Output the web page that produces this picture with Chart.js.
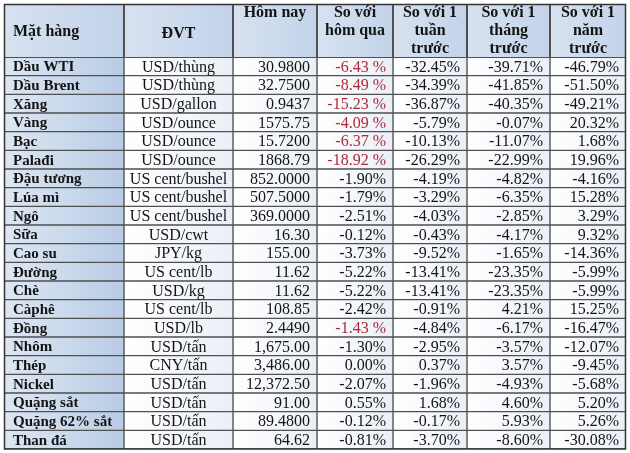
<!DOCTYPE html>
<html><head><meta charset="utf-8">
<script src="https://cdn.jsdelivr.net/npm/chart.js@4/dist/chart.umd.min.js"></script>
<style>html,body{margin:0;padding:0;background:#fff}canvas{display:block}</style>
</head><body>
<canvas id="c" width="630" height="453"></canvas>
<script>
// ---- data ----
const items = ['Dầu WTI','Dầu Brent','Xăng','Vàng','Bạc','Palađi','Đậu tương','Lúa mì','Ngô','Sữa','Cao su','Đường','Chè','Càphê','Đồng','Nhôm','Thép','Nickel','Quặng sắt','Quặng 62% sắt','Than đá'];
const units = ['USD/thùng','USD/thùng','USD/gallon','USD/ounce','USD/ounce','USD/ounce','US cent/bushel','US cent/bushel','US cent/bushel','USD/cwt','JPY/kg','US cent/lb','USD/kg','US cent/lb','USD/lb','USD/tấn','CNY/tấn','USD/tấn','USD/tấn','USD/tấn','USD/tấn'];
const today = ['30.9800','32.7500','0.9437','1575.75','15.7200','1868.79','852.0000','507.5000','369.0000','16.30','155.00','11.62','11.62','108.85','2.4490','1,675.00','3,486.00','12,372.50','91.00','89.4800','64.62'];
const dayChange = [-6.43,-8.49,-15.23,-4.09,-6.37,-18.92,-1.90,-1.79,-2.51,-0.12,-3.73,-5.22,-5.22,-2.42,-1.43,-1.30,0.00,-2.07,0.55,-0.12,-0.81];
const dayFlagged = [true,true,true,true,true,true,false,false,false,false,false,false,false,false,true,false,false,false,false,false,false];
const weekChange = [-32.45,-34.39,-36.87,-5.79,-10.13,-26.29,-4.19,-3.29,-4.03,-0.43,-9.52,-13.41,-13.41,-0.91,-4.84,-2.95,0.37,-1.96,1.68,-0.17,-3.70];
const monthChange = [-39.71,-41.85,-40.35,-0.07,-11.07,-22.99,-4.82,-6.35,-2.85,-4.17,-1.65,-23.35,-23.35,4.21,-6.17,-3.57,3.57,-4.93,4.60,5.93,-8.60];
const yearChange = [-46.79,-51.50,-49.21,20.32,1.68,19.96,-4.16,15.28,3.29,9.32,-14.36,-5.99,-5.99,15.25,-16.47,-12.07,-9.45,-5.68,5.20,5.26,-30.08];
const headers = [['Mặt hàng'],['ĐVT'],['Hôm nay'],['So với','hôm qua'],['So với 1','tuần','trước'],['So với 1','tháng','trước'],['So với 1','năm','trước']];

// ---- layout (column boundaries in scale units) ----
const colEdges = [0,120,229,313,389,463,546,622];
const TOP = 4;
const FONT = "'Liberation Serif','Times New Roman',serif";
const INK = '#141414';
const RED = '#ad2b36';
const LINE = '#505050';

const pct = v => v.toFixed(2) + '%';
const cellText = [
  r => items[r],
  r => units[r],
  r => today[r],
  r => dayFlagged[r] ? dayChange[r].toFixed(2) + ' %' : pct(dayChange[r]),
  r => pct(weekChange[r]),
  r => pct(monthChange[r]),
  r => pct(yearChange[r])
];
const align = ['left','center','right','right','right','right','right'];

function cellGradient(chart, c, first) {
  const {ctx, chartArea, scales} = chart;
  if (!chartArea || !scales.x) return first ? '#cbd9ec' : '#ffffff';
  const x0 = scales.x.getPixelForValue(colEdges[c]);
  const x1 = scales.x.getPixelForValue(colEdges[c + 1]);
  const g = ctx.createLinearGradient(x0, 0, x1, 0);
  if (first) { g.addColorStop(0, '#dde7f3'); g.addColorStop(1, '#b9cce5'); }
  else { g.addColorStop(0, '#ffffff'); g.addColorStop(1, '#eaeff7'); }
  return g;
}

const datasets = colEdges.slice(0, -1).map((e, c) => ({
  label: 'col' + c,
  data: items.map(() => [colEdges[c], colEdges[c + 1]]),
  backgroundColor: ctx => cellGradient(ctx.chart, c, c === 0),
  borderColor: LINE,
  borderWidth: 1,
  borderSkipped: false,
  grouped: false,
  categoryPercentage: 1,
  barPercentage: 1
}));

const tablePlugin = {
  id: 'tableText',
  afterDatasetsDraw(chart) {
    const {ctx, chartArea, scales} = chart;
    const xs = scales.x, ys = scales.y;
    ctx.save();
    // header cells
    for (let c = 0; c < headers.length; c++) {
      const x0 = xs.getPixelForValue(colEdges[c]);
      const x1 = xs.getPixelForValue(colEdges[c + 1]);
      const g = ctx.createLinearGradient(x0, 0, x1, 0);
      g.addColorStop(0, '#d7e2f0'); g.addColorStop(1, '#c2d3e9');
      ctx.fillStyle = g;
      ctx.fillRect(x0, TOP, x1 - x0, chartArea.top - TOP);
      ctx.strokeStyle = LINE; ctx.lineWidth = 1;
      ctx.strokeRect(x0 + 0.5, TOP + 0.5, x1 - x0 - 1, chartArea.top - TOP);
      ctx.fillStyle = INK;
      ctx.font = 'bold 16px ' + FONT;
      ctx.textBaseline = 'middle';
      const lines = headers[c];
      if (c === 0) {
        ctx.textAlign = 'left';
        ctx.fillText(lines[0], x0 + 9, (TOP + chartArea.top) / 2 + 1);
      } else if (c === 1) {
        ctx.textAlign = 'center';
        ctx.fillText(lines[0], (x0 + x1) / 2, (TOP + chartArea.top) / 2 + 3);
      } else {
        ctx.textAlign = 'center';
        lines.forEach((t, i) => ctx.fillText(t, (x0 + x1) / 2, TOP + 8.5 + i * 18));
      }
    }
    // body text
    ctx.textBaseline = 'middle';
    chart.data.datasets.forEach((ds, c) => {
      const meta = chart.getDatasetMeta(c);
      meta.data.forEach((bar, r) => {
        const p = bar.getProps(['x', 'y', 'base'], true);
        const left = Math.min(p.x, p.base), right = Math.max(p.x, p.base);
        ctx.font = (c === 0 ? 'bold 15px ' : '16px ') + FONT;
        ctx.fillStyle = (c === 3 && dayFlagged[r]) ? RED : INK;
        ctx.textAlign = align[c];
        const tx = align[c] === 'left' ? left + 9 : align[c] === 'center' ? (left + right) / 2 : right - 7;
        ctx.fillText(cellText[c](r), tx, p.y + 1);
      });
    });
    // outer frame
    ctx.strokeStyle = '#333'; ctx.lineWidth = 1.5;
    ctx.strokeRect(chartArea.left + 0.5, TOP + 0.5, chartArea.right - chartArea.left - 1, chartArea.bottom - TOP - 0.5);
    ctx.restore();
  }
};

new Chart(document.getElementById('c'), {
  type: 'bar',
  data: { labels: items, datasets },
  options: {
    indexAxis: 'y',
    responsive: false,
    animation: false,
    events: [],
    layout: { padding: { left: 4, right: 4, top: 57, bottom: 4 } },
    scales: {
      x: { type: 'linear', min: 0, max: 622, display: false },
      y: { type: 'category', display: false, offset: true }
    },
    plugins: { legend: { display: false }, tooltip: { enabled: false } }
  },
  plugins: [tablePlugin]
});
</script>
</body></html>
